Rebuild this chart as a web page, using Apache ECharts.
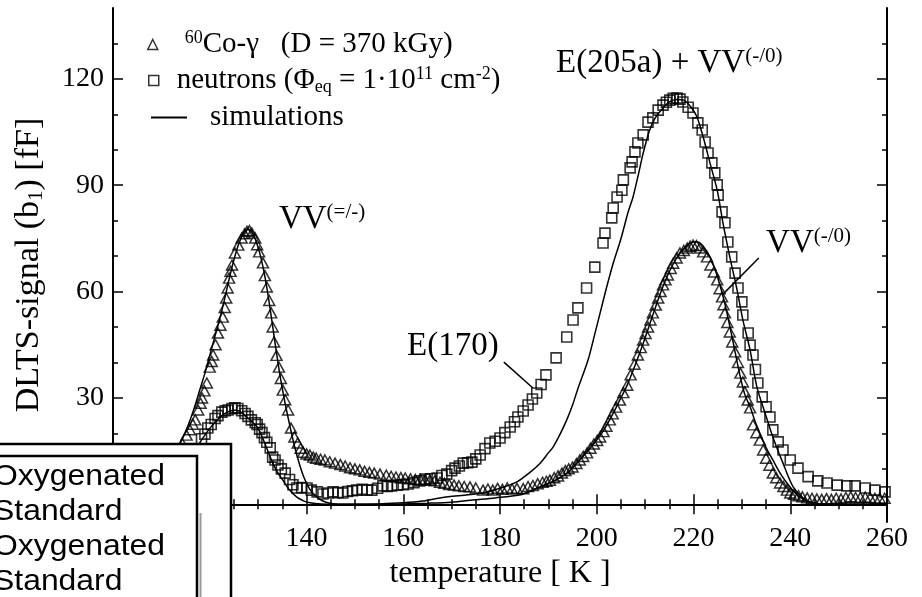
<!DOCTYPE html>
<html><head><meta charset="utf-8">
<script src="https://cdn.jsdelivr.net/npm/echarts@6/dist/echarts.min.js"></script>
<style>html,body{margin:0;padding:0;background:#fff}#c{width:922px;height:597px}</style>
</head><body><div id="c"></div>
<script>
// ---- data (temperature K, DLTS signal fF) ----
const gamma = [[101,1.8],[102.5,2.8],[104,4],[105.5,5.5],[107,7.2],[108.5,9],[110,11],[111.5,13],[113,15],[114.3,17.2],[115.2,19.5],[115.9,21],[116.5,22.6],[117,23.8],[117.6,26.6],[118.1,28.5],[118.4,30],[118.9,32],[119.4,34.2],[120,38.7],[120.4,40.3],[120.7,42.1],[121.2,45],[121.7,48.3],[122.2,50.5],[122.7,52.8],[123.1,55.5],[123.4,58.2],[123.7,61],[124,63.8],[124.3,65.7],[124.6,67.5],[125.2,70.9],[125.9,73.1],[126.6,75.1],[127.2,76.3],[127.7,77],[128.2,77.2],[128.7,76.5],[129.4,75.1],[129.8,73.2],[130.2,71.2],[131,68.1],[131.4,64.5],[131.8,61.3],[132.3,57.5],[132.7,54],[133,50],[133.3,45.8],[133.8,42],[134.3,38.7],[134.7,35.5],[135.1,32.2],[135.6,29.5],[136.2,26.6],[136.8,21.5],[137.5,19],[138.2,17.3],[138.8,15.8],[139.3,14.7],[140,14.2],[140.7,13.9],[141.4,13.3],[142,13],[142.9,12.7],[143.8,12.5],[144.8,12],[145.9,11.6],[147,11.2],[148,10.8],[149,10.3],[150,10],[151,9.7],[152,9.3],[153,9],[154,8.8],[155.2,8.5],[156.5,8.2],[157.5,7.9],[158.5,7.7],[159.5,7.5],[160.4,7.4],[161.5,7.2],[162.5,7],[163.5,7],[164.5,6.9],[165.5,6.8],[166.5,6.6],[167.6,6.2],[168.5,5.9],[169.5,5.6],[170.5,5.4],[171.5,5.2],[172.6,5],[173.8,4.9],[175,4.6],[176.5,4],[177.5,4.3],[178.5,4],[179.5,4.5],[180.5,4.2],[181.5,4.6],[182.5,4.3],[183.5,4.5],[184.8,4.4],[185.8,5],[186.8,5.3],[187.8,5.8],[188.8,6.2],[189.6,6.5],[190.3,6.8],[191.2,7.5],[192,8],[192.8,8.8],[193.5,9.5],[194.2,10],[195,10.5],[195.8,11.5],[196.5,12.5],[197.2,13.5],[198,14.5],[198.7,15.8],[199.4,17],[200.1,18],[200.7,19],[201.4,20.5],[202,22],[202.7,23.8],[203.3,25.5],[204,27.4],[204.8,29.4],[205.5,31.5],[206.3,33.6],[207,36.5],[207.8,39.5],[208.5,42.1],[209.1,44.2],[209.6,46.3],[210.1,48.2],[210.6,50],[211.1,52],[211.6,54],[212.2,56.2],[212.7,58.2],[213.2,60],[213.7,61.9],[214.2,63.3],[214.7,64.7],[215.3,66.5],[215.8,68],[216.5,69.5],[217.2,70.9],[218,71.6],[218.7,72.3],[219.3,72.8],[219.9,73.1],[220.6,73],[221.3,72.3],[222,71.2],[222.8,69.8],[223.5,67.5],[224.2,65.5],[224.9,63.3],[225.4,60.8],[225.9,58.5],[226.2,56.3],[226.5,54],[227,51.3],[227.5,48.6],[228,45.8],[228.6,43],[229.2,40],[229.7,37],[230.2,34.5],[230.6,31.7],[231.2,29.4],[231.7,27.2],[232.3,22.4],[233,20.2],[233.7,18.1],[234.4,15.3],[235,13],[235.7,11],[236.4,8.8],[237.1,7.5],[237.9,6],[238.6,5],[239.3,4],[240,3.2],[240.8,2.8],[241.7,2.4],[242.5,2.1],[243.5,1.8],[244.5,1.7],[245.5,1.5],[246.5,1.4],[247.5,1.6],[248.5,1.4],[249.5,1.7],[250.5,1.5],[251.5,1.9],[252.5,2.1],[253.5,1.9],[254.5,1.9],[255.5,2],[256.5,1.9],[257.5,1.7],[258.5,1.7],[259.5,1.7]];

const neutron = [[101,0.8],[103,1.5],[105,2.5],[107,4],[109,5.5],[111,7.5],[113,10],[115,12.5],[116.8,15.5],[118.3,18.5],[119,19.8],[119.6,21.5],[120.3,22.5],[121.1,24.2],[121.7,25],[122.5,26],[123.2,26.4],[123.8,26.6],[124.6,27],[125.2,27.2],[125.8,27],[126.6,26.4],[127.3,25.6],[127.9,24.8],[128.6,23.8],[129.4,23],[129.8,22.5],[130.3,21.2],[130.8,20.2],[131.3,18.8],[131.8,17.5],[132.5,15.9],[133,13.3],[133.5,12.5],[134.1,11.1],[134.8,10],[135.6,8.8],[136.5,7],[137.2,5.5],[138,4.6],[139,4.7],[140.1,4.6],[141,4],[142.2,3.5],[143.4,2.9],[144.5,3.2],[145.5,3.5],[146.5,3.3],[147.5,3.2],[148.5,3.6],[149.5,3.8],[150.4,4],[151.5,4.2],[152.5,4],[153.5,4],[154.7,4.5],[155.8,5.2],[156.7,5],[157.6,5.2],[158.8,5.4],[160,5.5],[161,5.7],[162.2,6.1],[163.4,6.6],[164.5,7.1],[165.7,7.2],[167,7.4],[168,8.1],[169,8.5],[170,9.5],[170.7,10.2],[171.6,10.8],[172.4,11.6],[173.3,11.7],[174.2,11.9],[175,12.8],[175.9,13.9],[176.9,15.7],[177.9,17.3],[179,17.8],[180,18.7],[181,20.2],[182.1,21.8],[183,23.3],[183.7,24.6],[184.8,26.3],[185.8,28],[186.7,29.7],[187.6,31.4],[188.5,33.8],[189.5,36.5],[191.6,41.3],[193.8,47.2],[195.1,52],[196.1,55.4],[197.9,61],[199.6,66.9],[201.3,73.7],[201.7,76.5],[203.1,80.8],[203.4,83.6],[204.2,86.7],[205.2,88.6],[205.5,91.5],[206.9,94.9],[207.3,96.6],[207.9,99.4],[208.5,101.9],[209.6,104.2],[210.6,107.8],[211.6,109],[212.7,111.2],[213.7,112.6],[214.4,113.4],[215.1,114],[215.8,114.5],[216.6,114.6],[217.2,114.3],[217.8,113.5],[218.9,112],[219.9,110.4],[220.9,107.6],[221.8,105.6],[222.4,102.2],[223,99.1],[223.8,96.3],[224.4,93.5],[224.9,90.1],[225.1,87.2],[225.9,82.5],[226.5,79.4],[227.1,74],[227.9,69.8],[228.6,65.2],[229.2,61],[230,57.1],[230.2,53.4],[231.3,48.3],[231.7,44.9],[232.3,42.1],[232.8,38],[233.3,34.2],[234.2,30.3],[235,27.5],[235.8,24.6],[236.4,21],[237.5,17.6],[238.5,15.3],[240,12.5],[241.6,10.2],[243.7,7.8],[245.7,6.6],[247.6,6],[249.7,5.4],[251.7,5.2],[253.4,5.2],[255.5,4.6],[257.5,4],[259.6,3.5]];

const simGamma = [[100,0.5],[104,2],[106,4],[108,6.5],[110,9.5],[112,13],[113,15],[114,17.5],[115,20.5],[116,24],[117,28],[118,32.5],[119,37],[120,42],[121,47],[122,52],[123,57.5],[124,63.5],[125,69],[126,73.5],[127,76.5],[127.8,77.6],[128.6,77],[129.5,74.5],[130.5,70],[131.5,63.5],[132.5,55],[133.5,45.5],[134.5,36.5],[135.5,29],[136.5,22.5],[137.5,16.5],[138.5,11.5],[139.5,7.5],[140.7,4.2],[142,2.2],[143,1.2],[144.2,0.5],[146,0.1],[150,0],[155,0],[160,0.1],[165,0.3],[170,0.6],[174.4,1.2],[179,1.8],[184,2.6],[186,3.5],[188.3,4.9],[191,6.5],[193.9,8.8],[196.5,12.5],[198,14.8],[200,18.1],[201.7,21.5],[203.4,25.7],[204.8,29.5],[206.3,33.6],[208,39.5],[209.5,45],[211,51],[212.5,57],[214,62.5],[215.5,67],[217,70.5],[218.5,72.8],[220,74],[220.8,74],[222,72.8],[223.5,69.5],[225,64],[226.5,56.5],[228,47],[229.5,37],[230.6,31],[231.7,27.5],[232.7,23.5],[233.7,20.1],[235,16],[236.4,12.5],[237.8,9],[239.3,6],[240.6,3.8],[242,2],[243.5,0.8],[245,0.2],[247,0],[260,0]];

const simNeutron = [[100,0.3],[104,1.5],[107,3],[110,5],[112,7],[114,10],[116,13.5],[118,17.5],[119.5,20.5],[121,23],[122.5,25],[124,26.2],[125.3,26.5],[126.5,26],[128,24.2],[129.8,21.8],[131,18.5],[132.5,13.3],[133.8,9.5],[135.1,6.8],[136.5,4],[138,2],[139.5,0.9],[140.7,0.4],[143,0.1],[150,0],[155,0.1],[160,0.4],[164,0.9],[167.6,1.8],[172,2.5],[176.5,3.2],[180,4.5],[183.5,6.3],[186,8.8],[188.3,11.6],[190,14.5],[191,16.2],[192.5,20],[193.8,23.8],[195,28],[196,32.2],[198.2,40.7],[199.5,47.5],[200.7,54],[202,61],[203.4,68],[204.8,74],[205.5,77.4],[206.5,82.5],[207.5,86.7],[208.6,93],[209.5,98.5],[210.8,105],[212,108.8],[213.7,111.8],[215,113.5],[216.6,114.2],[218,114],[219.5,112],[220.7,109.3],[222,103.6],[223.4,96.3],[224.9,88.6],[226.1,79.3],[227.5,69.8],[229,60.5],[230.2,52],[231.7,43.5],[233.1,33.1],[234.8,25.7],[236.4,19],[238.5,11.6],[240.6,4.9],[242.6,1.8],[244.5,0.5],[247,0],[260,0]];

const yLabelValues = [0, 30, 60, 90, 120];
const yMinorValues = [10, 20, 40, 50, 70, 80, 100, 110, 130];
const boxLines = ['Oxygenated', 'Standard', 'Oxygenated', 'Standard'];
const annotations = [
  {text: '{m|E(205a) + VV}{sup|(-/0)}', at: [191.6, 124.4]},
  {text: '{m|VV}{sup|(=/-)}', at: [134.3, 80.5]},
  {text: '{m|VV}{sup|(-/0)}', at: [235.0, 73.7]},
  {text: '{m|E(170)}', at: [160.8, 44.6]}
];
const pointers = [[[180.8, 40.1], [186.8, 32.8]], [[233.5, 69.5], [225.9, 59]]];

// ---- chart ----
const SERIF = '"Liberation Serif","Times New Roman",serif';
const SANS = '"Liberation Sans",Arial,sans-serif';
const BLACK = '#000';
const richLeg = {
  m: {fontFamily: SERIF, fontSize: 29, lineHeight: 31, color: BLACK},
  sup: {fontFamily: SERIF, fontSize: 18, lineHeight: 14, verticalAlign: 'top', color: BLACK},
  sub: {fontFamily: SERIF, fontSize: 18, lineHeight: 13, verticalAlign: 'bottom', color: BLACK}
};
const richName = {
  m: {fontFamily: SERIF, fontSize: 34, lineHeight: 36, color: BLACK},
  sub: {fontFamily: SERIF, fontSize: 21, lineHeight: 16, verticalAlign: 'bottom', color: BLACK}
};
const axisLine = {show: true, lineStyle: {color: BLACK, width: 2}};
const tickStyle = {color: BLACK, width: 1.5};

const chart = echarts.init(document.getElementById('c'));
const option = {
  animation: false,
  backgroundColor: '#fff',
  grid: {left: 113, top: 8, width: 774, height: 514},
  legend: [
    {data: [{name: 'gamma', icon: 'triangle', itemStyle: {color: '#fff', borderColor: BLACK, borderWidth: 1.5}}],
     left: 147, top: 29, padding: 0, itemWidth: 10, itemHeight: 10, selectedMode: false,
     formatter: () => '{sup|60}{m|Co-γ   (D = 370 kGy)}',
     textStyle: {padding: [0, 0, 0, 22], rich: richLeg}},
    {data: [{name: 'neutron', icon: 'rect', itemStyle: {color: '#fff', borderColor: BLACK, borderWidth: 1.5}}],
     left: 148, top: 65, padding: 0, itemWidth: 10, itemHeight: 10, selectedMode: false,
     formatter: () => '{m|neutrons (Φ}{sub|eq}{m| = 1·10}{sup|11}{m| cm}{sup|-2}{m|)}',
     textStyle: {padding: [0, 0, 0, 13], rich: richLeg}},
    {data: [{name: 'simulations', icon: 'rect', itemStyle: {color: BLACK, borderWidth: 0}}],
     left: 151, top: 103, padding: 0, itemWidth: 36, itemHeight: 2, selectedMode: false,
     formatter: () => '{m|simulations}',
     textStyle: {padding: [0, 0, 0, 18], rich: richLeg}}
  ],
  xAxis: [
    {type: 'value', position: 'bottom', min: 100, max: 260, interval: 20, axisLine,
     axisTick: {show: true, inside: true, length: 10, lineStyle: tickStyle},
     minorTick: {show: true, splitNumber: 4, length: 5, lineStyle: tickStyle},
     axisLabel: {fontFamily: SERIF, fontSize: 28, color: BLACK, margin: 3},
     splitLine: {show: false}, minorSplitLine: {show: false},
     name: 'temperature [ K ]', nameLocation: 'middle', nameGap: 34,
     nameTextStyle: {fontFamily: SERIF, fontSize: 32, color: BLACK}},
    {type: 'value', position: 'top', min: 100, max: 260, interval: 20, axisLine,
     axisTick: {show: true, inside: true, length: 10, lineStyle: tickStyle},
     minorTick: {show: true, splitNumber: 4, length: 5, lineStyle: tickStyle},
     axisLabel: {show: false}, splitLine: {show: false}}
  ],
  yAxis: [
    {type: 'value', position: 'left', min: -5, max: 140, axisLine,
     axisTick: {show: true, inside: true, length: 10, customValues: yLabelValues, lineStyle: tickStyle},
     axisLabel: {customValues: yLabelValues, fontFamily: SERIF, fontSize: 28, color: BLACK, margin: 9},
     splitLine: {show: false},
     name: '{m|DLTS-signal (b}{sub|1}{m|) [fF]}', nameLocation: 'middle', nameGap: 66,
     nameTextStyle: {rich: richName}},
    {type: 'value', position: 'left', min: -5, max: 140, axisLine: {show: false},
     axisTick: {show: true, inside: true, length: 5, customValues: yMinorValues, lineStyle: tickStyle},
     axisLabel: {show: false}, splitLine: {show: false}},
    {type: 'value', position: 'right', min: -5, max: 140, axisLine,
     axisTick: {show: true, inside: true, length: 10, customValues: yLabelValues, lineStyle: tickStyle},
     axisLabel: {show: false}, splitLine: {show: false}},
    {type: 'value', position: 'right', min: -5, max: 140, axisLine: {show: false},
     axisTick: {show: true, inside: true, length: 5, customValues: yMinorValues, lineStyle: tickStyle},
     axisLabel: {show: false}, splitLine: {show: false}}
  ],
  series: [
    {name: 'simulations', type: 'line', data: simGamma, symbol: 'none', smooth: 0.3,
     lineStyle: {color: BLACK, width: 1.5}, itemStyle: {color: BLACK},
     markLine: {silent: true, symbol: ['none', 'none'], label: {show: false},
                lineStyle: {color: BLACK, width: 2, type: 'solid'}, data: [{yAxis: 0}]}},
    {name: 'simulations', type: 'line', data: simNeutron, symbol: 'none', smooth: 0.3,
     lineStyle: {color: BLACK, width: 1.5}, itemStyle: {color: BLACK}},
    {name: 'gamma', type: 'scatter', data: gamma, symbol: 'triangle', symbolSize: [11, 10],
     itemStyle: {color: 'rgba(0,0,0,0)', borderColor: BLACK, borderWidth: 1.5}},
    {name: 'neutron', type: 'scatter', data: neutron, symbol: 'rect', symbolSize: 10,
     itemStyle: {color: 'rgba(0,0,0,0)', borderColor: BLACK, borderWidth: 1.6}}
  ]
};
chart.setOption(option);

const px = (p) => chart.convertToPixel({xAxisIndex: 0, yAxisIndex: 0}, p);
const richAnn = {
  m: {fontFamily: SERIF, fontSize: 33, lineHeight: 34, fill: BLACK},
  sup: {fontFamily: SERIF, fontSize: 21, lineHeight: 16, verticalAlign: 'top', fill: BLACK}
};
const graphics = [];
annotations.forEach(a => {
  const p = px(a.at);
  graphics.push({type: 'text', x: p[0], y: p[1], z: 50,
    style: {text: a.text, rich: richAnn, align: 'left', verticalAlign: 'middle', fill: BLACK}});
});
pointers.forEach(seg => {
  const a = px(seg[0]), b = px(seg[1]);
  graphics.push({type: 'line', z: 50, shape: {x1: a[0], y1: a[1], x2: b[0], y2: b[1]},
    style: {stroke: BLACK, lineWidth: 1.5}});
});
// overlaid box at the bottom-left corner
graphics.push({type: 'rect', z: 100, shape: {x: -10, y: 444, width: 241, height: 170},
  style: {fill: '#fff', stroke: BLACK, lineWidth: 2.5}});
graphics.push({type: 'rect', z: 101, shape: {x: -10, y: 456, width: 207, height: 160},
  style: {fill: '#fff', stroke: BLACK, lineWidth: 2.5}});
graphics.push({type: 'line', z: 101, shape: {x1: 200.5, y1: 513, x2: 200.5, y2: 600},
  style: {stroke: '#999', lineWidth: 2}});
boxLines.forEach((t, i) => {
  graphics.push({type: 'text', z: 102, x: -7, y: 477 + i * 35, scaleX: 1.1,
    style: {text: t, font: '29px ' + SANS, fill: BLACK, align: 'left', verticalAlign: 'middle'}});
});
chart.setOption({graphic: graphics});
</script>
</body></html>
